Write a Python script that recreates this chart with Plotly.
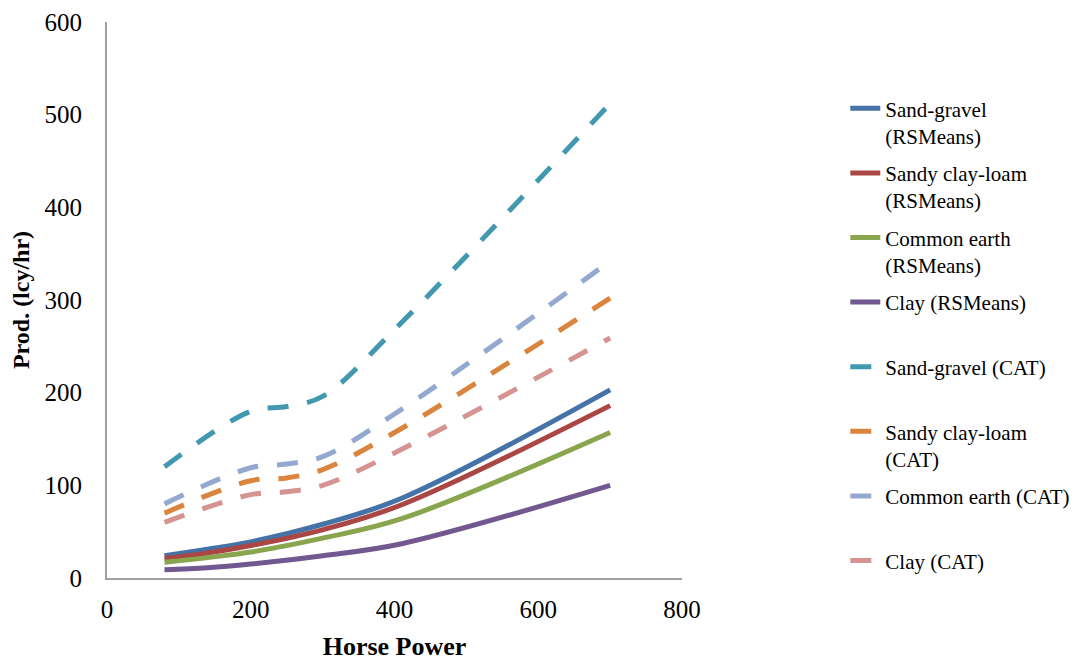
import plotly.graph_objects as go

# RSMeans series (solid)
hp_rs = [80, 140, 200, 300, 410, 700]
sand_gravel_rs = [24, 31, 39, 58, 86, 203]
sandy_clay_rs = [21, 27, 35, 52, 79, 186]
common_earth_rs = [17, 22, 28, 43, 64, 157]
clay_rs = [9, 11, 15, 24, 37, 100]

# CAT series (dashed)
hp_cat = [80, 200, 250, 300, 400, 700]
sand_gravel_cat = [120, 180, 185, 196, 268, 512]
sandy_clay_cat = [70, 105, 108, 117, 157, 302]
common_earth_cat = [80, 119, 123, 131, 177, 342]
clay_cat = [60, 90, 93, 100, 135, 259]

x_ticks = [0, 200, 400, 600, 800]
y_ticks = [0, 100, 200, 300, 400, 500, 600]

series = [
    ("Sand-gravel<br>(RSMeans)", hp_rs, sand_gravel_rs, "#4572A7", "solid"),
    ("Sandy clay-loam<br>(RSMeans)", hp_rs, sandy_clay_rs, "#AA4643", "solid"),
    ("Common earth<br>(RSMeans)", hp_rs, common_earth_rs, "#89A54E", "solid"),
    ("Clay (RSMeans)<br>&nbsp;", hp_rs, clay_rs, "#71588F", "solid"),
    ("Sand-gravel (CAT)<br>&nbsp;", hp_cat, sand_gravel_cat, "#4198AF", "21px,19px"),
    ("Sandy clay-loam<br>(CAT)", hp_cat, sandy_clay_cat, "#DB843D", "21px,19px"),
    ("Common earth (CAT)<br>&nbsp;", hp_cat, common_earth_cat, "#93A9CF", "21px,19px"),
    ("Clay (CAT)<br>&nbsp;", hp_cat, clay_cat, "#D59392", "21px,19px"),
]

fig = go.Figure()
for i, (name, xs, ys, color, dash) in enumerate(series):
    fig.add_trace(go.Scatter(
        x=xs, y=ys, mode="lines", name=name, legendgroup=f"g{i}",
        line=dict(color=color, width=5, dash=dash, shape="spline", smoothing=1),
    ))

font_family = "Liberation Serif, Times New Roman, serif"
fig.update_layout(
    width=1082, height=661,
    margin=dict(l=107, r=400, t=22, b=83, autoexpand=False),
    paper_bgcolor="white", plot_bgcolor="white",
    font=dict(family=font_family, color="black"),
    showlegend=True,
    legend=dict(
        x=1.284, xanchor="left", y=0.881, yanchor="top",
        font=dict(family=font_family, size=21, color="black"),
        tracegroupgap=7, valign="top", bgcolor="rgba(0,0,0,0)",
    ),
    xaxis=dict(
        range=[0, 800], tickvals=x_ticks, showgrid=False, zeroline=False,
        showline=True, linecolor="#A0A0A0", linewidth=2, ticks="",
        automargin=False,
        tickfont=dict(size=25, family=font_family),
        ticklabelstandoff=8,
        title=dict(text="<b>Horse Power</b>", font=dict(size=26, family=font_family), standoff=17),
    ),
    yaxis=dict(
        range=[0, 600], tickvals=y_ticks, showgrid=False, zeroline=False,
        showline=True, linecolor="#A0A0A0", linewidth=2, ticks="",
        automargin=False,
        tickfont=dict(size=25, family=font_family),
        ticklabelstandoff=18,
        title=dict(text="<b>Prod. (lcy/hr)</b>", font=dict(size=24, family=font_family), standoff=8),
    ),
)

fig.write_html("out.html")
